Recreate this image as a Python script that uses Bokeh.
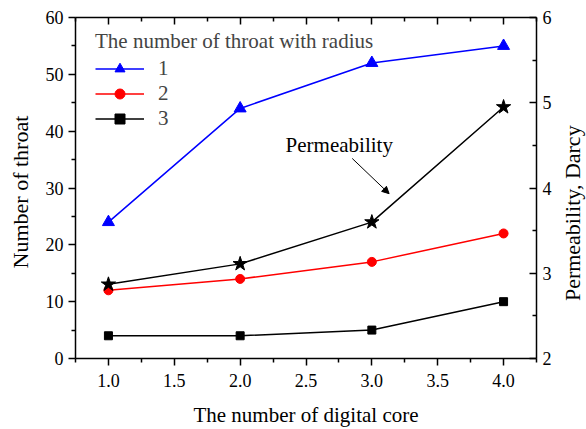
import math
from bokeh.plotting import figure
from bokeh.layouts import row
from bokeh.models import (LinearAxis, Range1d, FixedTicker, Legend, LegendItem,
                          Label, Arrow, NormalHead, PrintfTickFormatter, CustomJSTickFormatter)
from bokeh.embed import file_html
from bokeh.resources import INLINE

# ---- data ----
cores = [1.0, 2.0, 3.0, 4.0]
throat_r1 = [24, 44, 52, 55]
throat_r2 = [12, 14, 17, 22]
throat_r3 = [4, 4, 5, 10]
permeability = [2.87, 3.11, 3.60, 4.95]

x_ticks = [1.0, 1.5, 2.0, 2.5, 3.0, 3.5, 4.0]
x_minor = [0.75, 1.25, 1.75, 2.25, 2.75, 3.25, 3.75, 4.25]
y_ticks = [0, 10, 20, 30, 40, 50, 60]
y_minor = [5, 15, 25, 35, 45, 55]
perm_ticks = [2, 3, 4, 5, 6]
perm_minor = [2.5, 3.5, 4.5, 5.5]
legend_title = "The number of throat with radius"
legend_labels = ["1", "2", "3"]
x_title = "The number of digital core"
y_title = "Number of throat"
y2_title = "Permeability, Darcy"
note_text = "Permeability"

FONT = "Liberation Serif"
TICK_FS = "18px"
TITLE_FS = "21px"
VTITLE_FS = "22px"
H = 429

p = figure(width=514, height=H, x_range=Range1d(0.75, 4.25), y_range=Range1d(0, 60),
           output_backend="svg", toolbar_location=None,
           x_axis_location=None, y_axis_location=None,
           min_border_left=35, min_border_right=17, min_border_top=17, min_border_bottom=71)
p.extra_y_ranges = {"perm": Range1d(2, 6)}
p.outline_line_color = None
p.grid.visible = False
p.background_fill_color = "white"
p.border_fill_color = "white"


def style(ax, tin, tout, mtin, mtout):
    ax.major_tick_in = tin
    ax.major_tick_out = tout
    ax.minor_tick_in = mtin
    ax.minor_tick_out = mtout
    ax.axis_line_width = 1.5
    ax.major_tick_line_width = 1.5
    ax.minor_tick_line_width = 1.5
    ax.axis_line_color = "black"
    ax.major_tick_line_color = "black"
    ax.minor_tick_line_color = "black"
    ax.major_label_text_font = FONT
    ax.major_label_text_font_size = TICK_FS
    ax.major_label_text_color = "black"
    ax.axis_label_text_font = FONT
    ax.axis_label_text_font_size = TITLE_FS
    ax.axis_label_text_font_style = "normal"
    ax.axis_label_text_color = "black"


xfmt = PrintfTickFormatter(format="%.1f")
bottom = LinearAxis(ticker=FixedTicker(ticks=x_ticks, minor_ticks=x_minor), formatter=xfmt,
                    axis_label=x_title)
style(bottom, 0, 7, 0, 4)
bottom.major_label_standoff = 8
bottom.axis_label_standoff = 13
p.add_layout(bottom, "below")

top = LinearAxis(ticker=FixedTicker(ticks=x_ticks, minor_ticks=x_minor),
                 formatter=CustomJSTickFormatter(code="return ''"))
style(top, 7, 0, 4, 0)
top.major_label_standoff = 0
p.add_layout(top, "above")

left = LinearAxis(ticker=FixedTicker(ticks=y_ticks, minor_ticks=y_minor))
style(left, 0, 7, 0, 4)
left.major_label_standoff = 5
p.add_layout(left, "left")

right = LinearAxis(y_range_name="perm", ticker=FixedTicker(ticks=perm_ticks, minor_ticks=perm_minor))
style(right, 7, 0, 4, 0)
right.major_label_standoff = 6
p.add_layout(right, "right")

# ---- series ----
l1 = p.line(cores, throat_r1, line_color="#0000FF", line_width=1.5)
s1 = p.scatter(cores, throat_r1, marker="triangle", size=12, fill_color="#0000FF", line_color="#0000FF")
l2 = p.line(cores, throat_r2, line_color="#FF0000", line_width=1.5)
s2 = p.scatter(cores, throat_r2, marker="circle", size=9, fill_color="#FF0000", line_color="#FF0000")
l3 = p.line(cores, throat_r3, line_color="black", line_width=1.5)
s3 = p.scatter(cores, throat_r3, marker="square", size=8, fill_color="black", line_color="black")
lp = p.line(cores, permeability, line_color="black", line_width=1.5, y_range_name="perm")
sp = p.scatter(cores, permeability, marker="star", size=15, fill_color="black", line_color="black",
               y_range_name="perm")

legend = Legend(items=[LegendItem(label=legend_labels[0], renderers=[l1, s1]),
                       LegendItem(label=legend_labels[1], renderers=[l2, s2]),
                       LegendItem(label=legend_labels[2], renderers=[l3, s3])],
                title=legend_title, location=(20, 227))
legend.title_text_font = FONT
legend.title_text_font_size = TITLE_FS
legend.title_text_font_style = "normal"
legend.title_standoff = 2
legend.label_text_font = FONT
legend.label_text_font_size = TITLE_FS
legend.glyph_width = 49
legend.glyph_height = 25
legend.label_height = 25
legend.label_standoff = 14
legend.spacing = 0
legend.padding = 5
legend.margin = 0
legend.background_fill_alpha = 0
legend.border_line_color = None
p.add_layout(legend)

# ---- annotation ----
note = Label(x=2.345, y=37.6, text=note_text, text_font=FONT, text_font_size=TITLE_FS,
             text_baseline="alphabetic", text_color="black")
p.add_layout(note)
arrow = Arrow(end=NormalHead(size=7, fill_color="black", line_color="black"),
              x_start=2.851, y_start=35.2, x_end=3.131, y_end=29.0,
              line_width=1, line_color="black")
p.add_layout(arrow)


# ---- side strips holding the vertical axis titles (both read bottom to top) ----
def strip(text, w, x, y):
    s = figure(width=w, height=H, x_range=Range1d(0, 1), y_range=Range1d(0, 1),
               output_backend="svg", toolbar_location=None,
               x_axis_location=None, y_axis_location=None,
               min_border=0, min_border_left=0, min_border_right=0,
               min_border_top=0, min_border_bottom=0)
    s.outline_line_color = None
    s.grid.visible = False
    s.add_layout(Label(x=x, y=y, text=text, angle=math.pi / 2, text_font=FONT,
                       text_font_size=VTITLE_FS, text_color="black",
                       text_align="center", text_baseline="middle"))
    return s


p_left = strip(y_title, 40, 0.49, 0.488)
p_right = strip(y2_title, 32, 0.578, 0.426)

layout = row(p_left, p, p_right, spacing=0)
open("out.html", "w").write(file_html(layout, INLINE))
